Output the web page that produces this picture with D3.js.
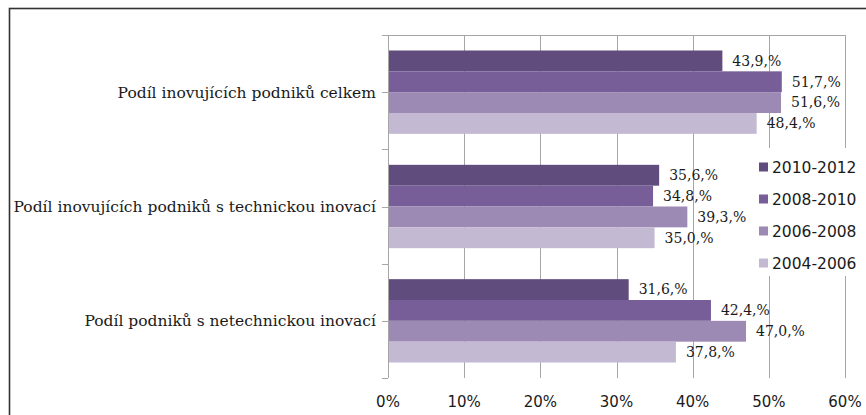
<!DOCTYPE html>
<html><head><meta charset="utf-8">
<script src="https://cdn.jsdelivr.net/npm/d3@7/dist/d3.min.js"></script>
<style>
html,body{margin:0;padding:0;background:#fff;}
svg{display:block;}
</style></head>
<body>
<svg id="chart" width="866" height="415"></svg>
<script>
const categories = [
  "Podíl inovujících podniků celkem",
  "Podíl inovujících podniků s technickou inovací",
  "Podíl podniků s netechnickou inovací"
];
const seriesNames = ["2010-2012", "2008-2010", "2006-2008", "2004-2006"];
const s2010 = [43.9, 35.6, 31.6];
const s2008 = [51.7, 34.8, 42.4];
const s2006 = [51.6, 39.3, 47.0];
const s2004 = [48.4, 35.0, 37.8];
const seriesValues = [s2010, s2008, s2006, s2004];
const colors = ["#614d7d", "#775e98", "#9c89b4", "#c4b9d2"];
const xTicks = [0, 10, 20, 30, 40, 50, 60];

(function () {
const svg = d3.select("#chart");
const pL = 388, pR = 845, pT = 35, pB = 378;

// outer frame
svg.append("rect").attr("x", 9.5).attr("y", 8.5).attr("width", 900).attr("height", 500)
  .attr("fill", "none").attr("stroke", "#333").attr("stroke-width", 1.6);

const x = d3.scaleLinear().domain([0, 60]).range([pL, pR]);
const y0 = d3.scaleBand().domain(categories).range([pT, pB])
  .paddingInner(0.271).paddingOuter(0.1355);
const y1 = d3.scaleBand().domain(seriesNames).range([0, y0.bandwidth()]).padding(0);

// gridlines
svg.append("g").selectAll("line").data(xTicks).join("line")
  .attr("x1", d => Math.round(x(d)) + 0.5).attr("x2", d => Math.round(x(d)) + 0.5)
  .attr("y1", pT).attr("y2", pB)
  .attr("stroke", "#a6a6a6").attr("stroke-width", 1);

// top border
svg.append("line").attr("x1", pL - 5).attr("x2", pR + 0.5)
  .attr("y1", pT + 0.5).attr("y2", pT + 0.5)
  .attr("stroke", "#a6a6a6");

// x tick labels
svg.append("g").selectAll("text").data(xTicks).join("text")
  .attr("x", d => x(d)).attr("y", 407)
  .attr("text-anchor", "middle")
  .attr("font-family", "DejaVu Sans, Verdana, sans-serif")
  .attr("font-size", 15).attr("fill", "#1a1a1a")
  .text(d => d + "%");

// bars
const rows = [];
categories.forEach((c, ci) => seriesNames.forEach((s, si) => rows.push({c, s, si, v: seriesValues[si][ci]})));

svg.append("g").selectAll("rect").data(rows).join("rect")
  .attr("x", pL + 1)
  .attr("y", d => y0(d.c) + y1(d.s))
  .attr("width", d => x(d.v) - pL - 1)
  .attr("height", y1.bandwidth())
  .attr("fill", d => colors[d.si]);

// data labels
svg.append("g").selectAll("text").data(rows).join("text")
  .attr("x", d => x(d.v) + 10)
  .attr("y", d => y0(d.c) + y1(d.s) + y1.bandwidth() / 2)
  .attr("dy", "0.35em")
  .attr("font-family", "DejaVu Serif, serif")
  .attr("font-size", 14).attr("fill", "#1a1a1a")
  .text(d => d.v.toFixed(1).replace(".", ",") + ",%");

// y axis line and ticks
svg.append("line").attr("x1", pL + 0.5).attr("x2", pL + 0.5)
  .attr("y1", pT).attr("y2", pB).attr("stroke", "#a6a6a6");
const step = (pB - pT) / 6;
svg.append("g").selectAll("line").data(d3.range(7)).join("line")
  .attr("x1", pL - 6).attr("x2", pL)
  .attr("y1", d => Math.round(pT + d * step) + 0.5).attr("y2", d => Math.round(pT + d * step) + 0.5)
  .attr("stroke", "#a6a6a6");

// category labels
svg.append("g").selectAll("text").data(categories).join("text")
  .attr("x", 376)
  .attr("y", d => y0(d) + y0.bandwidth() / 2)
  .attr("dy", "0.35em")
  .attr("text-anchor", "end")
  .attr("font-family", "DejaVu Serif, serif")
  .attr("font-size", 15.5).attr("fill", "#1a1a1a")
  .text(d => d);

// legend
const lg = svg.append("g");
lg.append("rect").attr("x", 752).attr("y", 148).attr("width", 114).attr("height", 128).attr("fill", "#fff");
const ly = d3.scalePoint().domain(seriesNames).range([167, 263]);
lg.selectAll("rect.sw").data(seriesNames).join("rect").attr("class", "sw")
  .attr("x", 759).attr("y", d => ly(d) - 4.5).attr("width", 9).attr("height", 9)
  .attr("fill", (d, i) => colors[i]);
lg.selectAll("text").data(seriesNames).join("text")
  .attr("x", 772).attr("y", d => ly(d)).attr("dy", "0.36em")
  .attr("font-family", "DejaVu Sans, Verdana, sans-serif")
  .attr("font-size", 15.5).attr("fill", "#1a1a1a")
  .text(d => d);
})();
</script>
</body></html>
